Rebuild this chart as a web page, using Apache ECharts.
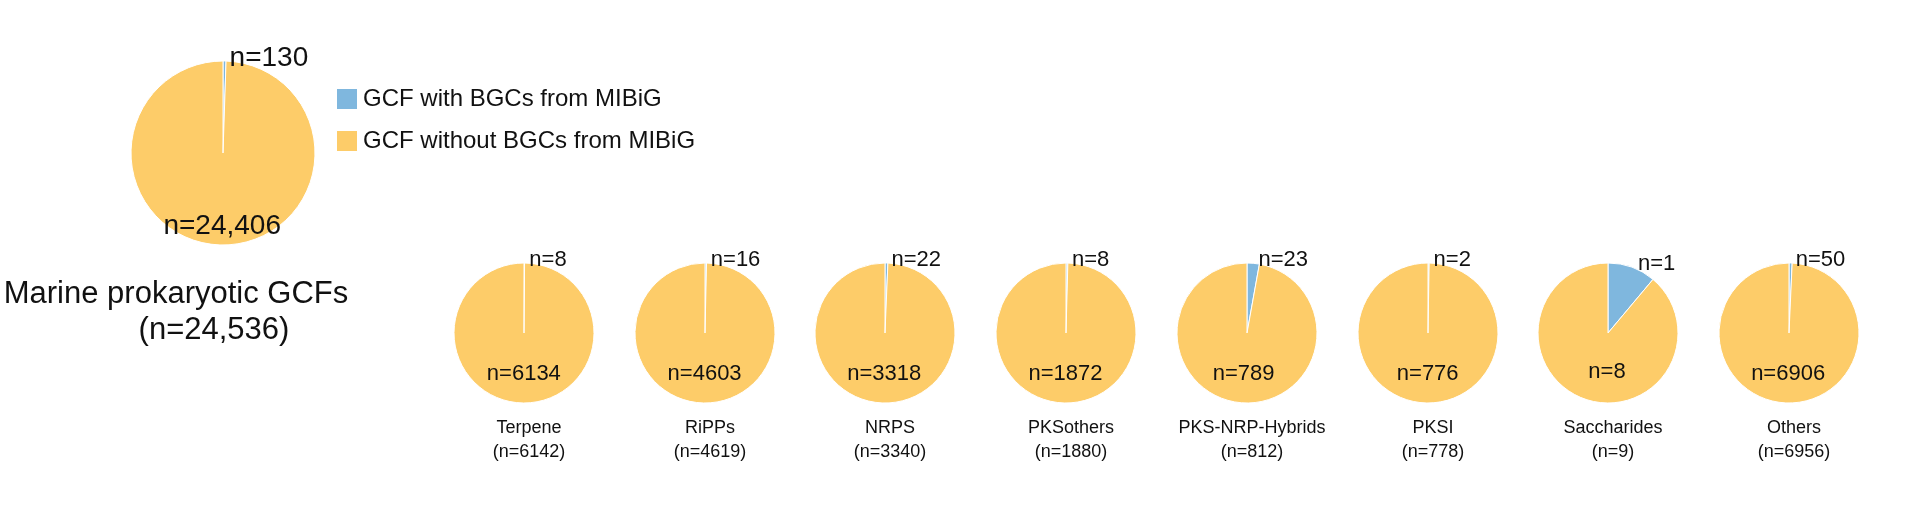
<!DOCTYPE html><html><head><meta charset="utf-8">
<script src="https://cdn.jsdelivr.net/npm/echarts@6/dist/echarts.min.js"></script>
<style>html,body{margin:0;background:#fff}#c{width:1920px;height:507px}</style></head><body><div id="c"></div>
<script>
const categories=['Terpene','RiPPs','NRPS','PKSothers','PKS-NRP-Hybrids','PKSI','Saccharides','Others'];
const withMibig=[8,16,22,8,23,2,1,50];
const withoutMibig=[6134,4603,3318,1872,789,776,8,6906];
const totals=[6142,4619,3340,1880,812,778,9,6956];
const overallWith=130, overallWithout=24406, overallTotal='24,536';
const BLUE='#7fb7de', YEL='#fdcc69';
const chart=echarts.init(document.getElementById('c'));
const xs=[524,705,885,1066,1247,1428,1608,1789];
function pieSeries(name,cx,cy,r,w,wo,woText,fs,offX,offY){
 return {type:'pie',name,center:[cx,cy],radius:r,startAngle:90,clockwise:true,animation:false,silent:true,
  itemStyle:{borderColor:'#fff',borderWidth:1},
  labelLine:{show:false,length:3,length2:0},
  data:[
   {name:'GCF with BGCs from MIBiG',value:w,itemStyle:{color:BLUE},
    label:{show:true,position:'outside',formatter:'n='+w,fontSize:fs,color:'#111',fontFamily:'Arial, Liberation Sans'}},
   {name:'GCF without BGCs from MIBiG',value:wo,itemStyle:{color:YEL},
    label:{show:true,position:'inside',formatter:'n='+woText,fontSize:fs,color:'#111',offset:[offX,offY],fontFamily:'Arial, Liberation Sans'}}
  ]};
}
const series=[pieSeries('big',223,153,92,overallWith,overallWithout,'24,406',28,0,24)];
const titles=[
 {text:'Marine prokaryotic GCFs',left:171,top:274,textAlign:'center',textStyle:{fontSize:31,fontWeight:'normal',color:'#111',fontFamily:'Arial, Liberation Sans'}},
 {text:'(n='+overallTotal+')',left:209,top:310,textAlign:'center',textStyle:{fontSize:31,fontWeight:'normal',color:'#111',fontFamily:'Arial, Liberation Sans'}}
];
categories.forEach((c,i)=>{
 const ox = withMibig[i]/totals[i]>0.05 ? 12 : 0;
 series.push(pieSeries(c,xs[i],333,70,withMibig[i],withoutMibig[i],String(withoutMibig[i]),22,ox,3));
 titles.push({text:c,subtext:'(n='+totals[i]+')',left:xs[i],top:414,textAlign:'center',itemGap:6,
  textStyle:{fontSize:18,fontWeight:'normal',color:'#111',fontFamily:'Arial, Liberation Sans'},
  subtextStyle:{fontSize:18,color:'#111',fontFamily:'Arial, Liberation Sans'}});
});
chart.setOption({
 animation:false,title:titles,
 legend:{left:330,top:82,orient:'vertical',itemWidth:22,itemHeight:22,itemGap:18,icon:'rect',
  textStyle:{fontSize:24,color:'#111',fontFamily:'Arial, Liberation Sans'},
  data:['GCF with BGCs from MIBiG','GCF without BGCs from MIBiG']},
 series
});
</script></body></html>
